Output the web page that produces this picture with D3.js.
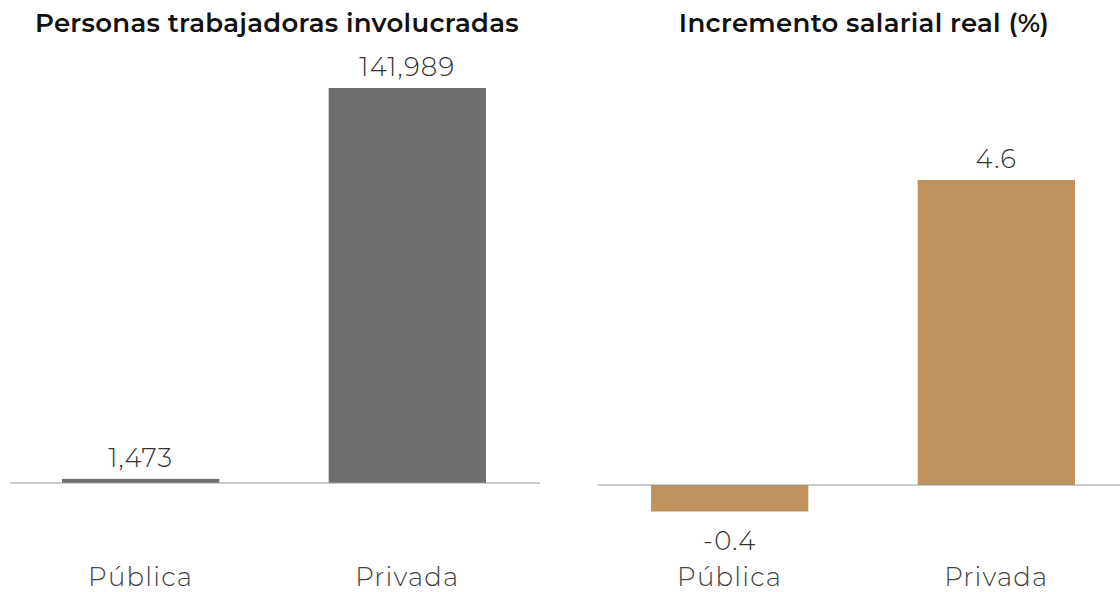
<!DOCTYPE html>
<html>
<head>
<meta charset="utf-8">
<script src="https://cdn.jsdelivr.net/npm/d3@7"></script>
<style>
  html, body { margin: 0; padding: 0; background: #fff; overflow: hidden; }
  svg { display: block; }
</style>
</head>
<body>
<svg id="chart" width="1120" height="592"></svg>
<script>
// Categories shared by both panels
const sectors = ["Pública", "Privada"];

// Left panel: workers involved
const workersTitle = "Personas trabajadoras involucradas";
const workers = [1473, 141989];

// Right panel: real wage increase (%)
const wageTitle = "Incremento salarial real (%)";
const wageIncrease = [-0.4, 4.6];

const svg = d3.select("#chart");
const font = "Montserrat, 'Open Sans', 'DejaVu Sans', sans-serif";

// Plain hyphen for negatives instead of the typographic minus
const locale = d3.formatLocale({ decimal: ".", thousands: ",", grouping: [3], currency: ["$", ""], minus: "-" });

function panel(opts) {
  const g = svg.append("g");
  const x = d3.scaleBand().domain(sectors).range(opts.xRange)
    .paddingInner(0.41).paddingOuter(0);
  const y = d3.scaleLinear().domain([0, opts.max]).range([opts.base, opts.top]);
  const data = sectors.map((s, i) => ({ s, v: opts.values[i] }));

  g.append("text")
    .attr("x", opts.titleX).attr("y", 32)
    .attr("text-anchor", "middle")
    .attr("font-family", font).attr("font-weight", 600)
    .attr("font-size", 26).attr("letter-spacing", 0.3).attr("fill", "#111")
    .text(opts.title);

  g.selectAll("rect").data(data).join("rect")
    .attr("x", d => x(d.s))
    .attr("width", x.bandwidth())
    .attr("y", d => Math.min(y(d.v), y(0)))
    .attr("height", d => Math.abs(y(d.v) - y(0)))
    .attr("fill", opts.color);

  g.append("line")
    .attr("x1", opts.lineRange[0]).attr("x2", opts.lineRange[1])
    .attr("y1", y(0)).attr("y2", y(0))
    .attr("stroke", "#9a9a9a").attr("stroke-width", 1.2);

  g.selectAll(".val").data(data).join("text")
    .attr("class", "val")
    .attr("x", d => x(d.s) + x.bandwidth() / 2)
    .attr("y", d => d.v >= 0 ? y(d.v) - 12 : y(d.v) + 38)
    .attr("text-anchor", "middle")
    .attr("font-family", font).attr("font-weight", 300)
    .attr("font-size", 26).attr("letter-spacing", 1.2).attr("fill", "#333")
    .text(d => opts.fmt(d.v));

  g.selectAll(".cat").data(data).join("text")
    .attr("class", "cat")
    .attr("x", d => x(d.s) + x.bandwidth() / 2)
    .attr("y", 586)
    .attr("text-anchor", "middle")
    .attr("font-family", font).attr("font-weight", 300)
    .attr("font-size", 26).attr("letter-spacing", 1.2).attr("fill", "#444")
    .text(d => d.s);
}

panel({
  title: workersTitle, titleX: 277,
  values: workers, max: 141989,
  xRange: [62, 486], base: 483, top: 88,
  lineRange: [10, 540],
  color: "#6e706f",
  fmt: locale.format(",")
});

panel({
  title: wageTitle, titleX: 864,
  values: wageIncrease, max: 4.6,
  xRange: [651, 1075], base: 485, top: 180,
  lineRange: [598, 1120],
  color: "#bd925b",
  fmt: locale.format(".1f")
});
</script>
</body>
</html>
